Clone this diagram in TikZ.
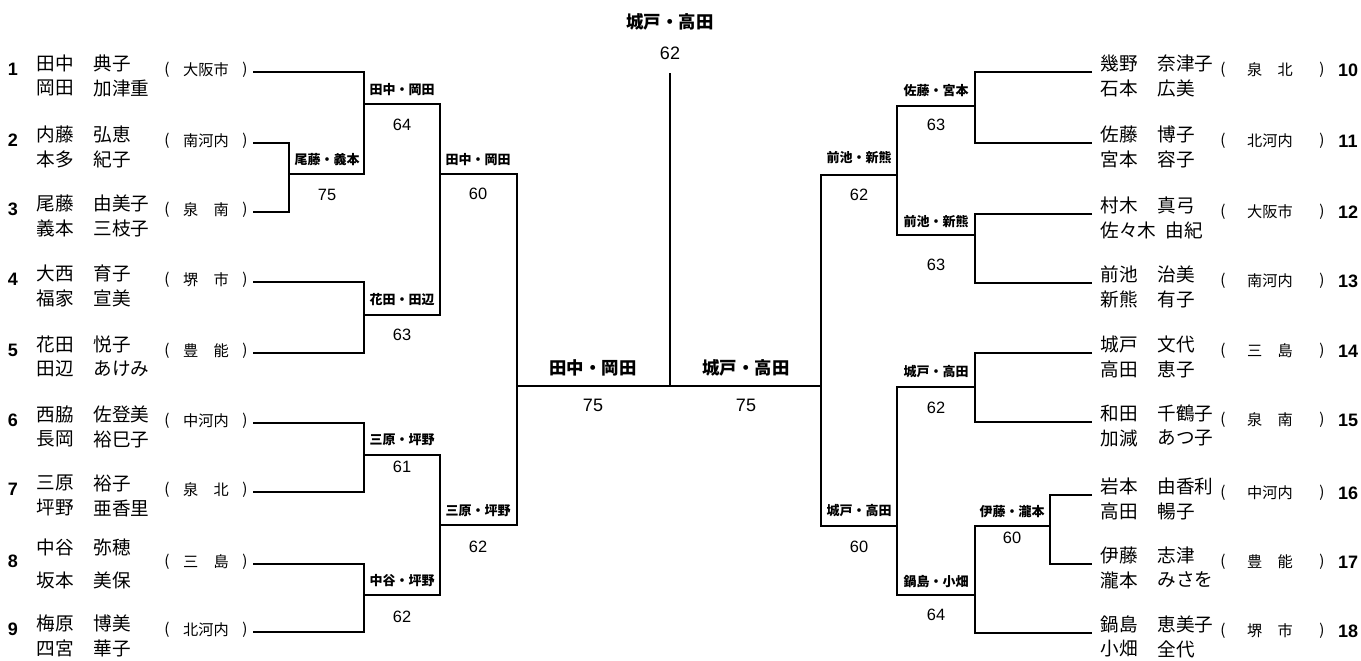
\documentclass[tikz,border=0pt]{standalone}
\usepackage{fontspec}
\setmainfont{Liberation Sans}
\newfontfamily\jp{Noto Sans CJK JP}

\begin{document}
\begin{tikzpicture}[x=0.5pt,y=-0.5pt,line width=0.6pt,
    player/.style={anchor=west,inner sep=0pt,font=\jp\fontsize{9.3}{10}\selectfont},
    club/.style={inner sep=0pt,font=\jp\fontsize{7.6}{8}\selectfont},
    seed/.style={inner sep=0pt,font=\bfseries\fontsize{9}{10}\selectfont},
    pair/.style={inner sep=0pt,font=\jp\bfseries\fontsize{6.5}{7}\selectfont},
    bigpair/.style={inner sep=0pt,font=\jp\bfseries\fontsize{8.7}{9}\selectfont},
    score/.style={inner sep=0pt,font=\fontsize{8.2}{9}\selectfont},
    bigscore/.style={inner sep=0pt,font=\fontsize{9}{10}\selectfont}]

    \useasboundingbox (0,0) rectangle (1361,660);

    % left half: seed, pair, club
    \foreach \n/\y/\ua/\fa/\ga/\fb/\gb/\c in {
        1/72/9/田中/典子/岡田/加津重/大阪市,
        2/143/9/内藤/弘恵/本多/紀子/南河内,
        3/212/9/尾藤/由美子/義本/三枝子/泉　南,
        4/282/9/大西/育子/福家/宣美/堺　市,
        5/353/9/花田/悦子/田辺/あけみ/豊　能,
        6/423/9/西脇/佐登美/長岡/裕巳子/中河内,
        7/492/9/三原/裕子/坪野/亜香里/泉　北,
        8/564/17/中谷/弥穂/坂本/美保/三　島,
        9/632/9/梅原/博美/四宮/華子/北河内}
    {
        \node[seed] (s\n) at (13,\y-3) {\n};
        \node[player] (fa\n) at (36,\y-\ua) {\fa};
        \node[player] (ga\n) at (93,\y-\ua) {\ga};
        \node[player] (fb\n) at (36,\y+16) {\fb};
        \node[player] (gb\n) at (93,\y+16) {\gb};
        \node[club] (po\n) at (167,\y-2) {(};
        \node[club] (c\n) at (206,\y-2) {\c};
        \node[club] (pc\n) at (245,\y-2) {)};
        \coordinate (la\n) at (253,\y);
    }

    % right half: pair, club, seed
    \foreach \n/\y/\fa/\ga/\fb/\gx/\gb/\c in {
        10/72/幾野/奈津子/石本/1157/広美/泉　北,
        11/143/佐藤/博子/宮本/1157/容子/北河内,
        12/214/村木/真弓/佐々木/1165/由紀/大阪市,
        13/283/前池/治美/新熊/1157/有子/南河内,
        14/353/城戸/文代/高田/1157/恵子/三　島,
        15/422/和田/千鶴子/加減/1157/あつ子/泉　南,
        16/495/岩本/由香利/高田/1157/暢子/中河内,
        17/564/伊藤/志津/瀧本/1157/みさを/豊　能,
        18/633/鍋島/恵美子/小畑/1157/全代/堺　市}
    {
        \node[player] (fa\n) at (1100,\y-9) {\fa};
        \node[player] (ga\n) at (1157,\y-9) {\ga};
        \node[player] (fb\n) at (1100,\y+16) {\fb};
        \node[player] (gb\n) at (\gx,\y+16) {\gb};
        \node[club] (po\n) at (1223,\y-2) {(};
        \node[club] (c\n) at (1270,\y-2) {\c};
        \node[club] (pc\n) at (1322,\y-2) {)};
        \node[seed] (s\n) at (1348,\y-2) {\n};
        \coordinate (ra\n) at (1092,\y);
    }

    % winners' points
    \coordinate (m23) at (289,174);
    \coordinate (m13) at (364,104);
    \coordinate (m45) at (364,315);
    \coordinate (m67) at (364,455);
    \coordinate (m89) at (364,595);
    \coordinate (m15) at (440,174);
    \coordinate (m69) at (440,525);
    \coordinate (mL) at (517,386);
    \coordinate (ctr) at (670,386);
    \coordinate (top) at (670,73);
    \coordinate (mR) at (821,386);
    \coordinate (m1013) at (897,175);
    \coordinate (m1418) at (897,526);
    \coordinate (m1011) at (975,106);
    \coordinate (m1213) at (975,235);
    \coordinate (m1415) at (975,387);
    \coordinate (m1618) at (975,595);
    \coordinate (m1617) at (1050,526);

    % left bracket
    \draw (la2) -| (m23) |- (la3);
    \draw (la1) -| (m13) |- (m23);
    \draw (la4) -| (m45) |- (la5);
    \draw (m13) -| (m15) |- (m45);
    \draw (la6) -| (m67) |- (la7);
    \draw (la8) -| (m89) |- (la9);
    \draw (m67) -| (m69) |- (m89);
    \draw (m15) -| (mL) |- (m69);

    % right bracket
    \draw (ra10) -| (m1011) |- (ra11);
    \draw (ra12) -| (m1213) |- (ra13);
    \draw (m1011) -| (m1013) |- (m1213);
    \draw (ra14) -| (m1415) |- (ra15);
    \draw (ra16) -| (m1617) |- (ra17);
    \draw (m1617) -| (m1618) |- (ra18);
    \draw (m1415) -| (m1418) |- (m1618);
    \draw (m1013) -| (mR) |- (m1418);

    % final
    \draw (mL) -- (mR);
    \draw (top) -- (ctr);

    % left results
    \node[pair] (p23) at (327,160) {尾藤・義本};
    \node[score] (r23) at (327,195) {75};
    \node[pair] (p13) at (402,90) {田中・岡田};
    \node[score] (r13) at (402,125) {64};
    \node[pair] (p45) at (402,300) {花田・田辺};
    \node[score] (r45) at (402,335) {63};
    \node[pair] (p67) at (402,440) {三原・坪野};
    \node[score] (r67) at (402,467) {61};
    \node[pair] (p89) at (402,581) {中谷・坪野};
    \node[score] (r89) at (402,617) {62};
    \node[pair] (p15) at (478,160) {田中・岡田};
    \node[score] (r15) at (478,194) {60};
    \node[pair] (p69) at (478,511) {三原・坪野};
    \node[score] (r69) at (478,547) {62};

    % right results
    \node[pair] (p1011) at (936,91) {佐藤・宮本};
    \node[score] (r1011) at (936,125) {63};
    \node[pair] (p1213) at (936,222) {前池・新熊};
    \node[score] (r1213) at (936,265) {63};
    \node[pair] (p1013) at (859,158) {前池・新熊};
    \node[score] (r1013) at (859,195) {62};
    \node[pair] (p1415) at (936,372) {城戸・高田};
    \node[score] (r1415) at (936,408) {62};
    \node[pair] (p1617) at (1012,512) {伊藤・瀧本};
    \node[score] (r1617) at (1012,538) {60};
    \node[pair] (p1618) at (936,582) {鍋島・小畑};
    \node[score] (r1618) at (936,615) {64};
    \node[pair] (p1418) at (859,511) {城戸・高田};
    \node[score] (r1418) at (859,547) {60};

    % semifinal and champion
    \node[bigpair] (pL) at (593,368) {田中・岡田};
    \node[bigscore] (rL) at (593,405) {75};
    \node[bigpair] (pR) at (746,368) {城戸・高田};
    \node[bigscore] (rR) at (746,405) {75};
    \node[bigpair] (champ) at (670,22) {城戸・高田};
    \node[bigscore] (rchamp) at (670,53) {62};

\end{tikzpicture}
\end{document}
